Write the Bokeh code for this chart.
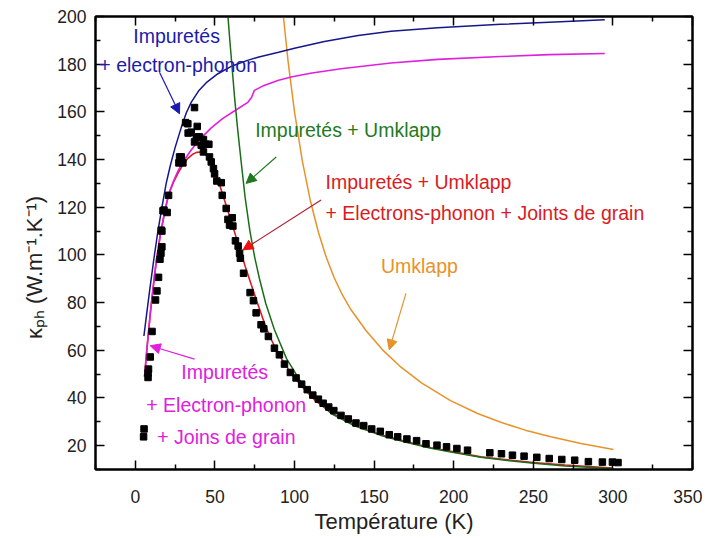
from bokeh.plotting import figure
from bokeh.models import (LinearAxis, Label, Arrow, NormalHead, FixedTicker,
                          CustomLabelingPolicy)
from bokeh.embed import file_html
from bokeh.resources import INLINE

# ---------------- data ----------------
T_exp = [5.2, 5.5, 8.0, 8.0, 8.3, 9.4, 10.5, 12.7, 13.6, 14.6, 15.5, 16.1, 16.3, 16.7, 16.7,
         17.4, 18.0, 20.0, 20.9, 27.4, 27.8, 28.9, 29.9, 31.6, 33.0, 33.2, 35.1, 37.2, 37.2,
         38.3, 38.9, 40.3, 41.4, 42.8, 42.8, 44.5, 46.2, 46.6, 47.7, 49.1, 49.8, 51.2, 54.0,
         54.6, 57.1, 58.2, 59.2, 60.9, 61.3, 62.9, 64.6, 65.5, 66.0, 68.0, 72.1, 74.2, 75.9,
         79.0, 80.7, 83.6, 87.4, 90.5, 93.7, 97.4, 101.0, 104.5, 108.0, 111.5, 115.0, 118.0,
         121.5, 124.7, 129.2, 133.8, 138.6, 143.5, 148.5, 153.9, 159.5, 164.8, 170.6, 176.7,
         182.6, 189.5, 195.5, 202.0, 208.7, 222.7, 230.0, 236.9, 244.2, 252.2, 260.0, 267.9,
         276.0, 284.6, 293.4, 299.7, 303.2]
K_exp = [23.7, 27.0, 48.6, 50.5, 52.1, 57.2, 67.9, 81.1, 84.9, 90.6, 98.2, 100.7, 110.4, 103.4, 110.0,
         118.5, 118.8, 117.8, 125.0, 138.6, 141.1, 141.1, 138.6, 155.5, 155.0, 151.1, 151.5, 161.8, 147.4,
         149.5, 153.9, 149.5, 146.0, 148.4, 143.2, 146.4, 146.4, 141.1, 139.0, 136.2, 134.0, 131.0, 130.3,
         125.0, 119.5, 114.9, 112.5, 115.6, 112.1, 105.9, 103.7, 100.7, 98.6, 92.3, 84.2, 80.8, 75.7,
         70.7, 69.0, 65.8, 60.9, 58.1, 54.2, 50.7, 48.4, 45.8, 43.5, 41.2, 39.5, 37.8,
         36.2, 34.7, 32.7, 31.2, 29.5, 28.4, 27.0, 26.0, 24.6, 23.7, 22.8, 22.1,
         20.8, 20.2, 19.5, 18.8, 18.1, 17.0, 16.6, 16.0, 15.6, 15.1, 14.6, 14.2,
         13.9, 13.3, 13.1, 13.1, 12.9]

# Impuretés + electron-phonon (blue)
T_blue = [5.4, 7, 9, 11.5, 14.2, 17, 19.4, 22, 25, 28.9, 32, 35.1, 40, 45, 51.9, 60, 70, 77,
          90, 100, 118.8, 140, 160.6, 190, 229.6, 260, 294.9]
K_blue = [66, 74.5, 85, 97.5, 110, 121, 130, 137.5, 145, 153.5, 159.5, 164, 169, 172.5, 176,
          179, 181.5, 182.9, 185, 186.7, 189.5, 192, 193.8, 195.3, 196.7, 197.6, 198.6]

# Impuretés + Electron-phonon + Joins de grain (magenta)
T_mag = [5.8, 7.5, 9.5, 11.5, 13.2, 15.5, 18.4, 21, 24, 27, 29.9, 35.1, 41, 47.7, 55, 64.4,
         70.7, 73, 74.8, 80, 90, 97.9, 110, 129.2, 160.6, 190, 229.6, 260, 294.9]
K_mag = [49, 62, 76, 88, 97.5, 107.5, 118, 125.5, 131, 135.5, 139, 144, 148.8, 153.3, 157.3,
         161.3, 164, 166, 169, 170.8, 173.3, 174.6, 176.2, 178.1, 180.5, 182, 183.2, 184, 184.5]

# Impuretés + Umklapp + Electrons-phonon + Joints de grain (red)
T_red = [5.8, 7.5, 9.5, 11.5, 13.2, 15.5, 18.4, 21, 24, 27, 29.9, 33, 36, 38.5, 41.4, 44,
         46.5, 49, 52.9, 56, 59.2, 62, 65.5, 69, 72.8, 76, 80, 84.3, 90, 97.9, 105, 113, 123,
         138, 154.3, 170, 185.7, 200, 217, 235, 250, 270, 300]
K_red = [49, 62, 76, 88, 97.5, 107.5, 118, 125.5, 130.5, 134.5, 137.8, 140.5, 142.2, 143,
         143.2, 142.3, 140.3, 136.8, 129.5, 123, 116.3, 110.3, 102.8, 95.3, 87.6, 81.2, 73.5,
         66, 58.3, 50.3, 44.5, 39, 33.7, 28.5, 24.6, 21.7, 19.1, 17.4, 15.3, 14, 12.9, 11.9, 10.6]

# Impuretés + Umklapp (green)
T_green = [58.2, 59.5, 61, 62.5, 64.4, 66.5, 69, 72, 75, 78, 82, 87.4, 95, 103.1, 112, 123,
           138, 154.3, 170, 185.7, 200, 217, 235, 250.5, 270, 300.7]
K_green = [200, 189, 177, 165, 152, 139, 124, 110, 99, 90, 79.5, 68.6, 56.5, 47.7, 40.5, 33.5,
           28.2, 24.3, 21.4, 18.9, 17.1, 15.1, 13.7, 12.6, 11.5, 10.3]

# Umklapp (orange)
T_orange = [92.6, 96, 100, 105, 110, 115, 120, 125, 130, 135.5, 145, 155, 166.9, 180, 198,
            215, 230, 245, 261, 280, 300.3]
K_orange = [202.7, 181, 160, 139.1, 122.6, 109.5, 98.9, 90.3, 83.3, 77, 68.2, 60.4, 52.9,
            46.2, 38.9, 33.5, 29.7, 26.5, 23.7, 20.9, 18.4]

x_ticks = [0, 50, 100, 150, 200, 250, 300, 350]
x_minor = [-25, 25, 75, 125, 175, 225, 275, 325]
y_ticks = [20, 40, 60, 80, 100, 120, 140, 160, 180, 200]
y_minor = [10, 30, 50, 70, 90, 110, 130, 150, 170, 190]

FONT = "Liberation Sans"
BLUE = "#1c1ca8"
MAG = "#e020dc"
RED = "#d81c24"
GREEN = "#1f7a1f"
ORANGE = "#e8922a"

p = figure(width=702, height=536, x_range=(-25, 350), y_range=(10, 200),
           output_backend="svg", toolbar_location=None,
           min_border_left=95, min_border_right=10, min_border_top=16, min_border_bottom=66)
p.xgrid.visible = False
p.ygrid.visible = False
p.outline_line_color = "black"
p.outline_line_width = 2
p.background_fill_color = "white"
p.border_fill_color = "white"

def style_axis(ax, ticks, minor, labels=True):
    ax.ticker = FixedTicker(ticks=ticks, minor_ticks=minor)
    ax.axis_line_width = 2
    ax.major_tick_in = 9
    ax.major_tick_out = 0
    ax.minor_tick_in = 5
    ax.minor_tick_out = 0
    ax.major_tick_line_width = 1.5
    ax.minor_tick_line_width = 1.5
    if labels:
        ax.major_label_text_font = FONT
        ax.major_label_text_font_size = "17.5px"
        ax.major_label_text_color = "#222222"
    else:
        ax.major_label_text_font_size = "0px"
        ax.major_label_standoff = 0
        ax.major_label_policy = CustomLabelingPolicy(
            code="for (const i of indices) indices.unset(i)")

style_axis(p.xaxis[0], x_ticks, x_minor)
style_axis(p.yaxis[0], y_ticks, y_minor)
p.xaxis[0].major_label_standoff = 20
p.yaxis[0].major_label_standoff = 9
p.xaxis[0].axis_label = "Température (K)"
# trailing no-break spaces shift the rotated label down to where the reference has it
p.yaxis[0].axis_label = "κₚₕ (W.m⁻¹.K⁻¹)" + "\u00a0" * 8
for ax in (p.xaxis[0], p.yaxis[0]):
    ax.axis_label_text_font = FONT
    ax.axis_label_text_font_size = "22px"
    ax.axis_label_text_font_style = "normal"
    ax.axis_label_text_color = "#222222"
p.xaxis[0].axis_label_standoff = 3
p.yaxis[0].axis_label_standoff = 7

top = LinearAxis()
style_axis(top, x_ticks, x_minor, labels=False)
p.add_layout(top, "above")
right = LinearAxis()
style_axis(right, y_ticks, y_minor, labels=False)
p.add_layout(right, "right")

# curves
p.line(T_red, K_red, line_color=RED, line_width=1.6)
p.line(T_orange, K_orange, line_color=ORANGE, line_width=1.5)
p.line(T_blue, K_blue, line_color="#16168c", line_width=1.5)
p.line(T_mag, K_mag, line_color=MAG, line_width=1.6)
p.line(T_green, K_green, line_color="#1a6e1a", line_width=1.5)
p.scatter(T_exp, K_exp, marker="square", size=6.5, fill_color="black", line_color="black")

# annotations
def lab(x, y, text, color):
    p.add_layout(Label(x=x, y=y, text=text, text_color=color, text_font=FONT,
                       text_font_size="19.5px", text_baseline="middle", text_align="left"))

lab(-1.3, 192.0, "Impuretés", BLUE)
lab(-22.6, 179.5, "+ electron-phonon", BLUE)
lab(75.3, 152.3, "Impuretés + Umklapp", GREEN)
lab(119.5, 130.5, "Impuretés + Umklapp", RED)
lab(119.5, 117.5, "+ Electrons-phonon + Joints de grain", RED)
lab(154.3, 95.4, "Umklapp", ORANGE)
lab(28.9, 51.0, "Impuretés", MAG)
lab(6.9, 37.2, "+ Electron-phonon", MAG)
lab(13.8, 23.8, "+ Joins de grain", MAG)

def arrow(x0, y0, x1, y1, color, line_color=None):
    p.add_layout(Arrow(x_start=x0, y_start=y0, x_end=x1, y_end=y1,
                       line_color=line_color or color, line_width=1.2,
                       end=NormalHead(size=10, fill_color=color, line_color=color)))

arrow(15.2, 176.6, 27.8, 159.2, "#1a1ab0")
arrow(88.5, 141.1, 69.6, 130.0, GREEN)
arrow(116.7, 123.0, 67.6, 102.1, "#ee1111", line_color="#b02030")
arrow(170.0, 83.9, 159.5, 60.2, ORANGE)
arrow(37.2, 56.3, 9.4, 61.9, MAG)

open("out.html", "w").write(file_html(p, INLINE))
